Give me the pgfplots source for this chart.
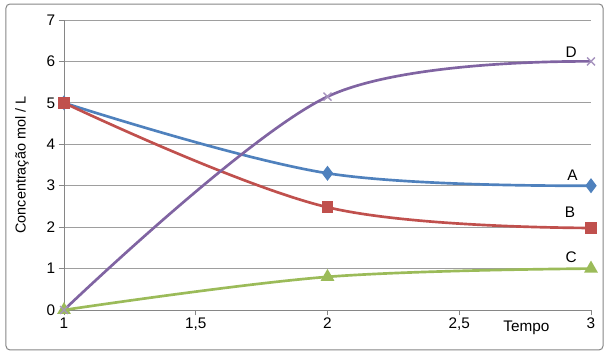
\documentclass[border=0pt]{standalone}
\usepackage{pgfplots}
\pgfplotsset{compat=1.18}
\usepackage{fontspec}
\setmainfont{Liberation Sans}
\definecolor{cA}{HTML}{4F81BD}
\definecolor{cB}{HTML}{C0504D}
\definecolor{cC}{HTML}{9BBB59}
\definecolor{cD}{HTML}{8064A2}
\definecolor{gridc}{HTML}{868686}
\begin{document}
\begin{tikzpicture}
\begin{axis}[
  scale only axis, width=395.25pt, height=217.5pt,
  xmin=1, xmax=3, ymin=0, ymax=7,
  xtick={1,1.5,2,2.5,3}, ytick={0,1,...,7},
  /pgf/number format/use comma,
  /pgf/number format/assume math mode=true,
  axis lines=left, axis line style={-, gridc, line width=0.6pt},
  ymajorgrids, grid style={gridc!80, line width=0.6pt},
  tick style={gridc, line width=0.6pt},
  major tick length=4pt, tick align=outside,
  font=\fontsize{11.5}{13}\selectfont,
  ticklabel style={font=\fontsize{11.5}{13}\selectfont, black},
  xticklabel style={inner sep=2pt},
  yticklabel style={inner sep=2.5pt},
  xlabel={Tempo},
  xlabel style={at={(axis description cs:0.8776,0)}, anchor=center, yshift=-13.5pt, inner sep=0pt, font=\fontsize{11.5}{13}\selectfont},
  ylabel={Concentração mol / L},
  ylabel style={at={(axis description cs:-0.0797,0.5)}, anchor=center, inner sep=0pt, font=\fontsize{10.8}{12}\selectfont},
  clip=false,
  every axis plot/.append style={smooth, tension=0.6, line width=2pt},
]
\addplot[cA, mark=diamond*, mark size=4pt, mark options={solid}] coordinates {(1,5) (2,3.3) (3,3)};
\addplot[cB, mark=square*, mark size=3.4pt] coordinates {(1,5) (2,2.48) (3,1.98)};
\addplot[cC, mark=triangle*, mark size=4pt] coordinates {(1,0) (2,0.8) (3,1)};
\addplot[cD, tension=0.55, mark=x, mark size=4.2pt, mark options={line width=1pt, cD!70}] coordinates {(1,0) (2,5.15) (3,6)};
\node[font=\fontsize{11.5}{13}\selectfont] at (axis cs:2.93,3.26) {A};
\node[font=\fontsize{11.5}{13}\selectfont] at (axis cs:2.92,2.37) {B};
\node[font=\fontsize{11.5}{13}\selectfont] at (axis cs:2.925,1.28) {C};
\node[font=\fontsize{11.5}{13}\selectfont] at (axis cs:2.925,6.23) {D};
\end{axis}
\draw[gridc, line width=0.75pt, rounded corners=3pt]
  ([shift={(-43.5pt,-30pt)}]current axis.south west) rectangle ([shift={(9pt,12pt)}]current axis.north east);
\path ([shift={(-48pt,-36pt)}]current axis.south west) rectangle ([shift={(14.25pt,15pt)}]current axis.north east);
\end{tikzpicture}
\end{document}
